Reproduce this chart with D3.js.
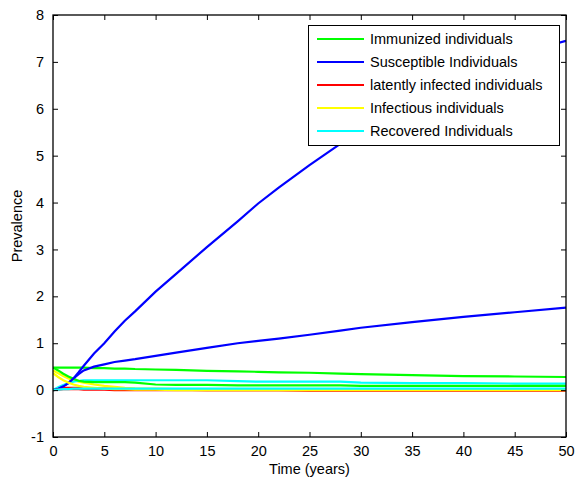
<!DOCTYPE html>
<meta charset="utf-8">
<head>
<style>
body { margin: 0; background: #fff; }
svg { display: block; }
text { font-family: Arial, "Liberation Sans", sans-serif; fill: #000; }
.tick-label { font-size: 14.5px; }
.legend text { font-size: 14.5px; }
</style>
<script src="https://d3js.org/d3.v7.min.js"></script>
</head>
<body>
<svg width="575" height="483"></svg>
<script>

// sample times (years)
var t = [0, 0.5, 1, 1.5, 2, 2.5, 3, 4, 5, 6, 7, 8, 10, 12, 15, 18, 20, 22, 25, 28, 30, 35, 40, 45, 50];

// run 1
var immunized1   = [0.48,0.48,0.48,0.48,0.48,0.48,0.48,0.47,0.47,0.46,0.46,0.45,0.44,0.43,0.41,0.40,0.39,0.38,0.37,0.35,0.34,0.32,0.30,0.29,0.28];
var susceptible1 = [0,0.03,0.08,0.15,0.25,0.38,0.52,0.78,1.00,1.25,1.48,1.68,2.10,2.48,3.05,3.60,3.98,4.32,4.80,5.25,5.55,6.20,6.75,7.15,7.45];
var latent1      = [0,0.03,0.05,0.05,0.05,0.05,0.04,0.04,0.03,0.03,0.02,0.02,0.01,0.01,0,0,0,0,-0.01,-0.01,-0.01,-0.01,-0.01,-0.01,-0.01];
var infectious1  = [0.42,0.36,0.30,0.25,0.21,0.18,0.16,0.12,0.09,0.07,0.05,0.04,0.03,0.02,0.01,0.01,0.005,0.005,0.005,0.005,0.005,0.005,0.005,0.005,0.005];
var recovered1   = [0,0.06,0.11,0.15,0.18,0.20,0.21,0.21,0.21,0.21,0.21,0.21,0.21,0.21,0.21,0.19,0.18,0.18,0.18,0.18,0.16,0.15,0.15,0.14,0.14];

// run 2
var immunized2   = [0.48,0.42,0.35,0.29,0.24,0.20,0.18,0.17,0.17,0.17,0.17,0.16,0.12,0.11,0.11,0.10,0.10,0.10,0.10,0.10,0.09,0.09,0.09,0.09,0.09];
var susceptible2 = [0,0.03,0.08,0.15,0.25,0.34,0.42,0.50,0.55,0.60,0.63,0.66,0.73,0.80,0.90,1.00,1.05,1.10,1.18,1.27,1.33,1.45,1.56,1.66,1.76];
var latent2      = [0,0.01,0.02,0.02,0.02,0.02,0.01,0.01,0.01,0,0,0,0,0,0,0,0,0,0,0,0,0,0,0,0];
var infectious2  = [0.36,0.28,0.21,0.16,0.12,0.09,0.07,0.05,0.03,0.02,0.02,0.01,0.01,0,0,0,0,0,0,0,0,0,0,0,0];
var recovered2   = [0,0.01,0.02,0.02,0.03,0.03,0.03,0.03,0.03,0.03,0.03,0.03,0.03,0.03,0.03,0.03,0.03,0.03,0.03,0.03,0.03,0.03,0.03,0.03,0.03];

var legendNames = ["Immunized individuals", "Susceptible Individuals", "latently infected individuals", "Infectious individuals", "Recovered Individuals"];
var colors = ["#00ff00", "#0000ff", "#ff0000", "#ffff00", "#00ffff"];

var xTicks = [0, 5, 10, 15, 20, 25, 30, 35, 40, 45, 50];
var yTicks = [-1, 0, 1, 2, 3, 4, 5, 6, 7, 8];

var series = [
  immunized1, susceptible1, latent1, infectious1, recovered1,
  immunized2, susceptible2, latent2, infectious2, recovered2
];

var svg = d3.select("svg");

// plot box edges (px); "top" is taken by window.top, hence the prefix
var boxL = 53, boxR = 566, boxT = 15, boxB = 437;

var x = d3.scaleLinear().domain([0, 50]).range([boxL, boxR]);
var y = d3.scaleLinear().domain([-1, 8]).range([boxB, boxT]);

var plot = svg.append("g");
plot.append("clipPath").attr("id", "clip")
  .append("rect").attr("x", boxL).attr("y", boxT).attr("width", boxR - boxL).attr("height", boxB - boxT);

var line = d3.line()
  .x(function(d, i) { return x(t[i]); })
  .y(function(d) { return y(d); });

plot.append("g").attr("clip-path", "url(#clip)")
  .selectAll("path")
  .data(series)
  .enter().append("path")
    .attr("d", line)
    .attr("fill", "none")
    .attr("stroke", function(d, i) { return colors[i % 5]; })
    .attr("stroke-width", 2.2);

// plain hyphen for negatives, like the original
var plainFmt = function(d) { return String(d); };

// axes box with inward ticks on all sides
var tickLen = 5;
svg.append("g")
    .attr("transform", "translate(0," + boxB + ")")
    .call(d3.axisBottom(x).tickValues(xTicks).tickFormat(plainFmt).tickSizeInner(-tickLen).tickSizeOuter(0).tickPadding(9))
    .call(function(g) {
      g.select(".domain").remove();
      g.selectAll("text").attr("class", "tick-label").attr("font-family", null).attr("font-size", null);
    });
svg.append("g")
    .attr("transform", "translate(0," + boxT + ")")
    .call(d3.axisTop(x).tickValues(xTicks).tickSizeInner(-tickLen).tickSizeOuter(0).tickFormat(""))
    .call(function(g) { g.select(".domain").remove(); });
svg.append("g")
    .attr("transform", "translate(" + boxL + ",0)")
    .call(d3.axisLeft(y).tickValues(yTicks).tickFormat(plainFmt).tickSizeInner(-tickLen).tickSizeOuter(0).tickPadding(9))
    .call(function(g) {
      g.select(".domain").remove();
      g.selectAll("text").attr("class", "tick-label").attr("font-family", null).attr("font-size", null);
    });
svg.append("g")
    .attr("transform", "translate(" + boxR + ",0)")
    .call(d3.axisRight(y).tickValues(yTicks).tickSizeInner(-tickLen).tickSizeOuter(0).tickFormat(""))
    .call(function(g) { g.select(".domain").remove(); });

svg.append("rect")
  .attr("x", boxL).attr("y", boxT)
  .attr("width", boxR - boxL).attr("height", boxB - boxT)
  .attr("fill", "none").attr("stroke", "#000").attr("stroke-width", 1.3);

svg.selectAll(".tick line").attr("stroke", "#000");

svg.append("text")
  .attr("x", (boxL + boxR) / 2).attr("y", 474)
  .attr("text-anchor", "middle").attr("font-size", 14.5)
  .text("Time (years)");

svg.append("text")
  .attr("transform", "translate(22," + ((boxT + boxB) / 2) + ") rotate(-90)")
  .attr("text-anchor", "middle").attr("font-size", 14.5)
  .text("Prevalence");

// legend
var legend = svg.append("g").attr("class", "legend");
legend.append("rect")
  .attr("x", 308.5).attr("y", 25.5).attr("width", 251).attr("height", 120)
  .attr("fill", "#fff").attr("stroke", "#000").attr("stroke-width", 1);

var item = legend.selectAll(".item")
  .data(legendNames)
  .enter().append("g")
    .attr("transform", function(d, i) { return "translate(0," + (39 + i * 23) + ")"; });
item.append("line")
  .attr("x1", 317).attr("x2", 364)
  .attr("stroke", function(d, i) { return colors[i]; })
  .attr("stroke-width", 2.2);
item.append("text")
  .attr("x", 370).attr("dy", "0.35em")
  .text(function(d) { return d; });

</script>
</body>
